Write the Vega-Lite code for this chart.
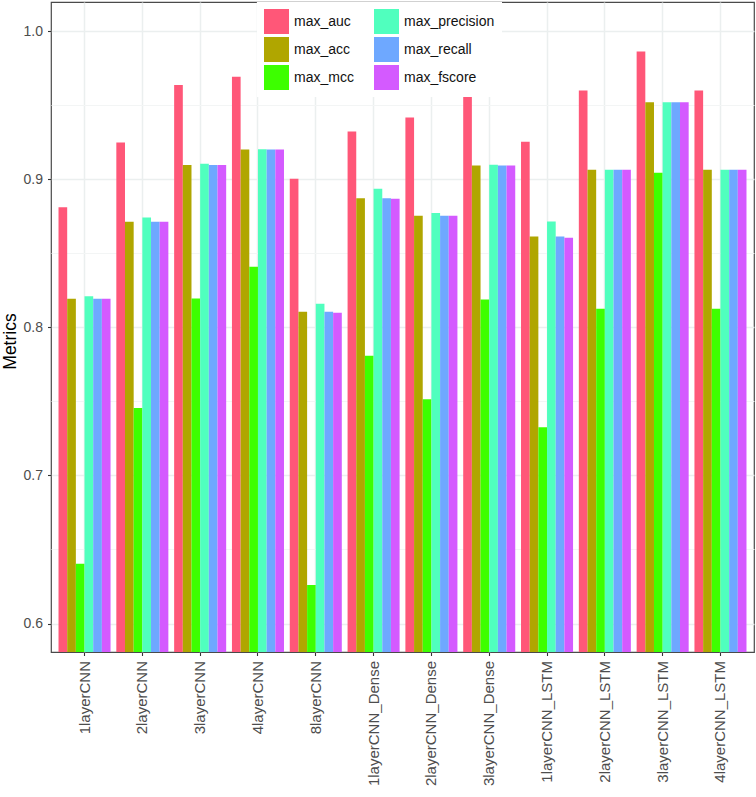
{
  "$schema": "https://vega.github.io/schema/vega-lite/v6.json",
  "autosize": "none",
  "padding": {"left": 51, "top": 2, "right": 2, "bottom": 145},
  "width": 703,
  "height": 650,
  "background": "white",
  "config": {
    "font": "Liberation Sans",
    "view": {"stroke": "#4a4a4a", "strokeWidth": 1.2}
  },
  "data": {
    "values": [
      {"model": "1layerCNN", "metric": "max_auc", "value": 0.881},
      {"model": "1layerCNN", "metric": "max_acc", "value": 0.8193},
      {"model": "1layerCNN", "metric": "max_mcc", "value": 0.6403},
      {"model": "1layerCNN", "metric": "max_precision", "value": 0.8209},
      {"model": "1layerCNN", "metric": "max_recall", "value": 0.8193},
      {"model": "1layerCNN", "metric": "max_fscore", "value": 0.8193},
      {"model": "2layerCNN", "metric": "max_auc", "value": 0.9248},
      {"model": "2layerCNN", "metric": "max_acc", "value": 0.8713},
      {"model": "2layerCNN", "metric": "max_mcc", "value": 0.7455},
      {"model": "2layerCNN", "metric": "max_precision", "value": 0.8742},
      {"model": "2layerCNN", "metric": "max_recall", "value": 0.8713},
      {"model": "2layerCNN", "metric": "max_fscore", "value": 0.8713},
      {"model": "3layerCNN", "metric": "max_auc", "value": 0.9635},
      {"model": "3layerCNN", "metric": "max_acc", "value": 0.9095},
      {"model": "3layerCNN", "metric": "max_mcc", "value": 0.8195},
      {"model": "3layerCNN", "metric": "max_precision", "value": 0.9104},
      {"model": "3layerCNN", "metric": "max_recall", "value": 0.9095},
      {"model": "3layerCNN", "metric": "max_fscore", "value": 0.9095},
      {"model": "4layerCNN", "metric": "max_auc", "value": 0.9691},
      {"model": "4layerCNN", "metric": "max_acc", "value": 0.92},
      {"model": "4layerCNN", "metric": "max_mcc", "value": 0.8409},
      {"model": "4layerCNN", "metric": "max_precision", "value": 0.9202},
      {"model": "4layerCNN", "metric": "max_recall", "value": 0.92},
      {"model": "4layerCNN", "metric": "max_fscore", "value": 0.92},
      {"model": "8layerCNN", "metric": "max_auc", "value": 0.9003},
      {"model": "8layerCNN", "metric": "max_acc", "value": 0.8105},
      {"model": "8layerCNN", "metric": "max_mcc", "value": 0.626},
      {"model": "8layerCNN", "metric": "max_precision", "value": 0.8159},
      {"model": "8layerCNN", "metric": "max_recall", "value": 0.8105},
      {"model": "8layerCNN", "metric": "max_fscore", "value": 0.8099},
      {"model": "1layerCNN_Dense", "metric": "max_auc", "value": 0.9322},
      {"model": "1layerCNN_Dense", "metric": "max_acc", "value": 0.8872},
      {"model": "1layerCNN_Dense", "metric": "max_mcc", "value": 0.7808},
      {"model": "1layerCNN_Dense", "metric": "max_precision", "value": 0.8935},
      {"model": "1layerCNN_Dense", "metric": "max_recall", "value": 0.8872},
      {"model": "1layerCNN_Dense", "metric": "max_fscore", "value": 0.8868},
      {"model": "2layerCNN_Dense", "metric": "max_auc", "value": 0.9416},
      {"model": "2layerCNN_Dense", "metric": "max_acc", "value": 0.8753},
      {"model": "2layerCNN_Dense", "metric": "max_mcc", "value": 0.7514},
      {"model": "2layerCNN_Dense", "metric": "max_precision", "value": 0.8771},
      {"model": "2layerCNN_Dense", "metric": "max_recall", "value": 0.8753},
      {"model": "2layerCNN_Dense", "metric": "max_fscore", "value": 0.8753},
      {"model": "3layerCNN_Dense", "metric": "max_auc", "value": 0.9615},
      {"model": "3layerCNN_Dense", "metric": "max_acc", "value": 0.9093},
      {"model": "3layerCNN_Dense", "metric": "max_mcc", "value": 0.8188},
      {"model": "3layerCNN_Dense", "metric": "max_precision", "value": 0.9097},
      {"model": "3layerCNN_Dense", "metric": "max_recall", "value": 0.9093},
      {"model": "3layerCNN_Dense", "metric": "max_fscore", "value": 0.9093},
      {"model": "1layerCNN_LSTM", "metric": "max_auc", "value": 0.9252},
      {"model": "1layerCNN_LSTM", "metric": "max_acc", "value": 0.8613},
      {"model": "1layerCNN_LSTM", "metric": "max_mcc", "value": 0.7325},
      {"model": "1layerCNN_LSTM", "metric": "max_precision", "value": 0.8715},
      {"model": "1layerCNN_LSTM", "metric": "max_recall", "value": 0.8613},
      {"model": "1layerCNN_LSTM", "metric": "max_fscore", "value": 0.8605},
      {"model": "2layerCNN_LSTM", "metric": "max_auc", "value": 0.9599},
      {"model": "2layerCNN_LSTM", "metric": "max_acc", "value": 0.9063},
      {"model": "2layerCNN_LSTM", "metric": "max_mcc", "value": 0.8126},
      {"model": "2layerCNN_LSTM", "metric": "max_precision", "value": 0.9063},
      {"model": "2layerCNN_LSTM", "metric": "max_recall", "value": 0.9063},
      {"model": "2layerCNN_LSTM", "metric": "max_fscore", "value": 0.9063},
      {"model": "3layerCNN_LSTM", "metric": "max_auc", "value": 0.9862},
      {"model": "3layerCNN_LSTM", "metric": "max_acc", "value": 0.952},
      {"model": "3layerCNN_LSTM", "metric": "max_mcc", "value": 0.9043},
      {"model": "3layerCNN_LSTM", "metric": "max_precision", "value": 0.952},
      {"model": "3layerCNN_LSTM", "metric": "max_recall", "value": 0.952},
      {"model": "3layerCNN_LSTM", "metric": "max_fscore", "value": 0.952},
      {"model": "4layerCNN_LSTM", "metric": "max_auc", "value": 0.9599},
      {"model": "4layerCNN_LSTM", "metric": "max_acc", "value": 0.9063},
      {"model": "4layerCNN_LSTM", "metric": "max_mcc", "value": 0.8126},
      {"model": "4layerCNN_LSTM", "metric": "max_precision", "value": 0.9063},
      {"model": "4layerCNN_LSTM", "metric": "max_recall", "value": 0.9063},
      {"model": "4layerCNN_LSTM", "metric": "max_fscore", "value": 0.9063}
    ]
  },
  "mark": {"type": "bar", "clip": true},
  "encoding": {
    "x": {
      "field": "model",
      "type": "nominal",
      "sort": ["1layerCNN", "2layerCNN", "3layerCNN", "4layerCNN", "8layerCNN", "1layerCNN_Dense", "2layerCNN_Dense", "3layerCNN_Dense", "1layerCNN_LSTM", "2layerCNN_LSTM", "3layerCNN_LSTM", "4layerCNN_LSTM"],
      "scale": {"paddingInner": 0.1, "paddingOuter": 0.13},
      "axis": {
        "title": null,
        "bandPosition": 0.5,
        "domain": false,
        "grid": true,
        "gridColor": "#EBEFEF",
        "gridWidth": 1.5,
        "ticks": true,
        "tickSize": 3.5,
        "tickColor": "#333333",
        "tickWidth": 1.1,
        "labelAngle": 270,
        "labelFontSize": 15,
        "labelColor": "#4D4D4D",
        "labelPadding": 5
      }
    },
    "xOffset": {
      "field": "metric",
      "type": "nominal",
      "sort": ["max_auc", "max_acc", "max_mcc", "max_precision", "max_recall", "max_fscore"],
      "scale": {"paddingInner": 0, "paddingOuter": 0}
    },
    "y": {
      "field": "value",
      "type": "quantitative",
      "scale": {"domain": [0.5808, 1.0196], "zero": false, "nice": false},
      "axis": {
        "title": "Metrics",
        "titleFontSize": 17.5,
        "titleFontWeight": "normal",
        "titleColor": "#000000",
        "titleBaseline": "alphabetic",
        "titleAngle": 270,
        "titleX": -35.5,
        "titleY": 339,
        "titleAlign": "center",
        "domain": false,
        "values": [0.6, 0.65, 0.7, 0.75, 0.8, 0.85, 0.9, 0.95, 1.0],
        "labelExpr": "abs(datum.value*10 - round(datum.value*10)) > 0.01 ? '' : format(datum.value, '.1f')",
        "labelFontSize": 14,
        "labelColor": "#4D4D4D",
        "labelPadding": 5,
        "tickSize": 3.5,
        "tickColor": "#333333",
        "tickWidth": 1.1,
        "tickOpacity": {"condition": {"test": "abs(datum.value*10 - round(datum.value*10)) > 0.01", "value": 0}, "value": 1},
        "grid": true,
        "gridColor": {"condition": {"test": "abs(datum.value*10 - round(datum.value*10)) > 0.01", "value": "#F3F5F5"}, "value": "#EBEFEF"},
        "gridWidth": {"condition": {"test": "abs(datum.value*10 - round(datum.value*10)) > 0.01", "value": 1}, "value": 1.5}
      }
    },
    "color": {
      "field": "metric",
      "type": "nominal",
      "scale": {
        "domain": ["max_auc", "max_acc", "max_mcc", "max_precision", "max_recall", "max_fscore"],
        "range": ["#FF5778", "#B0A600", "#3DFF00", "#50FFBE", "#6EA8FF", "#D45AFF"]
      },
      "legend": {
        "title": null,
        "orient": "none",
        "legendX": 206,
        "legendY": 0,
        "columns": 2,
        "columnPadding": 20,
        "rowPadding": 3,
        "padding": 7,
        "fillColor": "white",
        "symbolType": "square",
        "symbolSize": 625,
        "symbolStrokeWidth": 0,
        "symbolOpacity": 1,
        "labelFontSize": 14,
        "labelColor": "#111111",
        "labelOffset": 5
      }
    }
  }
}
